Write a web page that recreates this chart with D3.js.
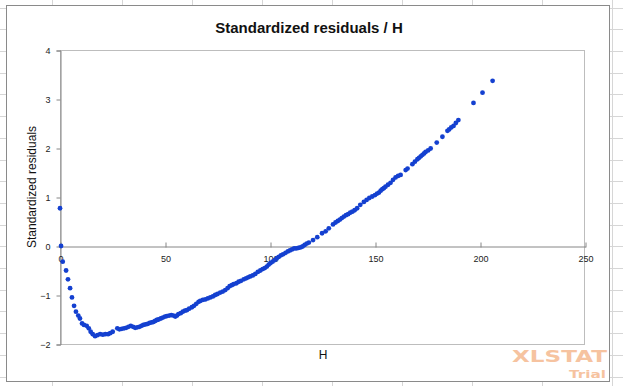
<!DOCTYPE html>
<html><head><meta charset="utf-8">
<script src="https://cdn.jsdelivr.net/npm/d3@7/dist/d3.min.js"></script>
<style>html,body{margin:0;padding:0;background:#fff;}svg{display:block;}</style>
</head><body>
<script>
// ---- data ----
const hValues = [0,0.5,1.3,2.9,3.8,4.8,5.7,6.7,7.6,8.7,9.5,10.5,11.4,12.7,13.7,14.6,15.6,16.7,17.8,19.1,20.4,21.6,22.9,23.9,25.1,27.3,28.3,29.4,30.5,31.5,32.6,33.7,34.8,35.8,36.8,37.8,38.8,39.7,40.7,41.7,42.7,43.7,44.5,45.3,46.1,46.9,48,49,50,50.9,52,53,54,54.9,55.7,56.4,57.5,58.5,59.5,60.4,61.5,62.8,63.8,64.9,66,66.8,68,69.2,70.4,71.6,72.8,73.9,75,76.3,77.5,78.7,79.8,80.8,81.8,82.7,84,85.1,86.2,87.5,88.6,89.6,90.6,91.8,93,94.2,95.4,96.5,97.5,98.5,99.4,100.2,101.2,102.2,103.2,104.2,105.2,106.2,107.4,108.5,109.5,110.5,111.5,112.5,113.5,114.5,115.5,116.5,117.5,118.5,120.5,122.5,124.8,126.5,128,130,131.2,132.3,133.3,134.2,135.2,136.2,137.2,138.2,139.2,140.3,141.5,143,144.7,146,147.3,148.7,150,151,151.9,152.7,153.5,154.2,155,156.2,157.4,158.6,159.8,161,162.2,164.6,165.5,167.8,169,170.2,171,171.8,172.6,173.4,174.1,175.3,176.5,179.4,182.1,184.5,185.3,186.3,187.4,188.5,189.7,196.9,201.2,206];
const residuals = [0.77,0.0,-0.32,-0.50,-0.68,-0.86,-1.05,-1.22,-1.34,-1.42,-1.48,-1.58,-1.61,-1.63,-1.68,-1.75,-1.80,-1.84,-1.82,-1.80,-1.81,-1.80,-1.80,-1.78,-1.75,-1.68,-1.70,-1.69,-1.68,-1.67,-1.65,-1.63,-1.65,-1.67,-1.66,-1.65,-1.63,-1.61,-1.60,-1.59,-1.57,-1.56,-1.55,-1.53,-1.51,-1.50,-1.48,-1.46,-1.44,-1.43,-1.42,-1.41,-1.42,-1.44,-1.42,-1.39,-1.37,-1.34,-1.32,-1.31,-1.28,-1.25,-1.22,-1.18,-1.14,-1.12,-1.10,-1.09,-1.07,-1.05,-1.03,-1.0,-0.98,-0.95,-0.93,-0.90,-0.86,-0.82,-0.80,-0.78,-0.76,-0.73,-0.71,-0.68,-0.66,-0.64,-0.62,-0.60,-0.57,-0.53,-0.50,-0.47,-0.45,-0.42,-0.38,-0.35,-0.32,-0.29,-0.25,-0.22,-0.19,-0.17,-0.14,-0.11,-0.09,-0.07,-0.05,-0.05,-0.04,-0.03,-0.01,0.02,0.05,0.07,0.12,0.18,0.26,0.30,0.36,0.44,0.48,0.51,0.54,0.57,0.60,0.63,0.65,0.68,0.70,0.73,0.77,0.84,0.90,0.94,0.98,1.01,1.04,1.07,1.09,1.13,1.16,1.18,1.21,1.25,1.29,1.35,1.40,1.43,1.45,1.55,1.58,1.67,1.72,1.77,1.80,1.83,1.86,1.89,1.92,1.95,1.99,2.11,2.23,2.35,2.38,2.42,2.45,2.51,2.57,2.92,3.13,3.37];
const xTicks = [0, 50, 100, 150, 200, 250];
const yTicks = [-2, -1, 0, 1, 2, 3, 4];
const titleText = "Standardized residuals / H";
const xLabel = "H";
const yLabel = "Standardized residuals";

const W = 623, H = 386;
const svg = d3.select("body").append("svg").attr("width", W).attr("height", H);

// spreadsheet grid behind chart
const gridColor = "#d6d6d6";
const colXs = d3.range(52, W, 70);
const rowYs = d3.range(7.6, H, 21.7);
svg.append("g").selectAll("line.c").data(colXs).join("line")
  .attr("x1", d => Math.round(d) + 0.5).attr("x2", d => Math.round(d) + 0.5)
  .attr("y1", 0).attr("y2", H).attr("stroke", gridColor);
svg.append("g").selectAll("line.r").data(rowYs).join("line")
  .attr("y1", d => Math.round(d) + 0.5).attr("y2", d => Math.round(d) + 0.5)
  .attr("x1", 0).attr("x2", W).attr("stroke", gridColor);

// chart area
svg.append("rect").attr("x", 6.5).attr("y", 5.5).attr("width", 603).attr("height", 376)
  .attr("fill", "#fff").attr("stroke", "#8a8a8a").attr("stroke-width", 1);

const x = d3.scaleLinear().domain([0, 250]).range([60, 585]);
const y = d3.scaleLinear().domain([-2, 4]).range([344, 50]);

// plot area border
svg.append("rect").attr("x", 60.5).attr("y", 50.5).attr("width", 524).attr("height", 294)
  .attr("fill", "none").attr("stroke", "#bdbdbd");

// y axis
const yAxis = d3.axisLeft(y).tickValues(yTicks).tickSize(4).tickPadding(6).tickFormat(d3.format("d"));
const gy = svg.append("g").attr("transform", "translate(60.5,0.5)").call(yAxis);
gy.select(".domain").attr("stroke", "#868686");
gy.selectAll(".tick line").attr("stroke", "#868686");
gy.selectAll(".tick text").attr("font-family", "Liberation Sans, Arial, sans-serif").attr("font-size", 9).attr("fill", "#222");

// x axis at y=0
const xAxis = d3.axisBottom(x).tickValues(xTicks).tickSize(0).tickPadding(0).tickFormat(d3.format("d"));
const gx = svg.append("g").attr("transform", `translate(0.5,${Math.round(y(0)) + 0.5})`).call(xAxis);
gx.select(".domain").attr("stroke", "#868686");
gx.selectAll(".tick line").attr("y1", -4).attr("y2", 1).attr("stroke", "#868686");
gx.selectAll(".tick text").attr("y", 13).attr("dy", "0.32em")
  .attr("font-family", "Liberation Sans, Arial, sans-serif").attr("font-size", 9).attr("fill", "#222");

// points
const pts = hValues.map((h, i) => ({h, r: residuals[i]}));
svg.append("g").selectAll("circle").data(pts).join("circle")
  .attr("cx", d => x(d.h)).attr("cy", d => y(d.r)).attr("r", 2.4)
  .attr("fill", "#1440d0");

// title
svg.append("text").attr("x", 309).attr("y", 33).attr("text-anchor", "middle")
  .attr("font-family", "Liberation Sans Narrow, Arial Narrow, sans-serif").attr("font-weight", "bold")
  .attr("font-size", 15).attr("fill", "#111").text(titleText);

// axis titles
svg.append("text").attr("x", 323).attr("y", 359).attr("text-anchor", "middle")
  .attr("font-family", "Liberation Sans, Arial, sans-serif").attr("font-size", 12).attr("fill", "#111").text(xLabel);
svg.append("text").attr("transform", "translate(36,187) rotate(-90)").attr("text-anchor", "middle")
  .attr("font-family", "Liberation Sans, Arial, sans-serif").attr("font-size", 12).attr("fill", "#111").text(yLabel);

// watermark
svg.append("text").attr("x", 512).attr("y", 362).attr("textLength", 95).attr("lengthAdjust", "spacingAndGlyphs")
  .attr("font-family", "DejaVu Sans, sans-serif").attr("font-weight", "bold").attr("font-size", 16.5)
  .attr("fill", "#f6c3a0").text("XLSTAT");
svg.append("text").attr("x", 569).attr("y", 378).attr("textLength", 37).attr("lengthAdjust", "spacingAndGlyphs")
  .attr("font-family", "DejaVu Sans, sans-serif").attr("font-weight", "bold").attr("font-size", 11)
  .attr("fill", "#f6c3a0").text("Trial");
</script>
</body></html>
